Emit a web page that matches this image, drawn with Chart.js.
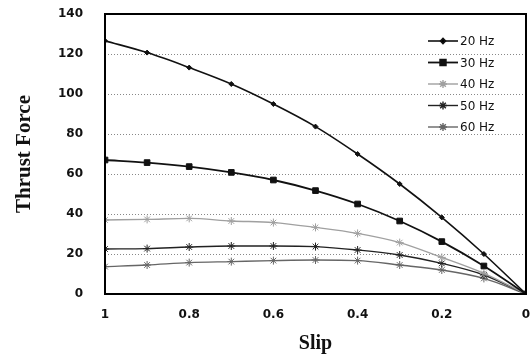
<!DOCTYPE html>
<html>
<head>
<meta charset="utf-8">
<script src="https://cdn.jsdelivr.net/npm/chart.js@4"></script>
<style>
  html, body { margin: 0; padding: 0; background: #fff; overflow: hidden; }
  canvas { display: block; }
</style>
</head>
<body>
<canvas id="thrustChart" width="531" height="356"></canvas>
<script>
const slip = [1, 0.9, 0.8, 0.7, 0.6, 0.5, 0.4, 0.3, 0.2, 0.1, 0];
const hz20 = [126.6, 120.7, 113.2, 105, 95, 83.7, 70, 55, 38.3, 20, 0];
const hz30 = [67, 65.7, 63.7, 60.8, 57, 51.7, 45, 36.5, 26.2, 14, 0];
const hz40 = [37, 37.3, 37.8, 36.5, 35.7, 33.3, 30.3, 25.7, 18.3, 10.3, 0];
const hz50 = [22.5, 22.7, 23.5, 24, 24, 23.7, 22, 19.5, 15.3, 9.5, 0];
const hz60 = [13.7, 14.5, 15.7, 16.2, 16.7, 17, 16.7, 14.5, 12, 7.8, 0];
const seriesLabels = ["20 Hz", "30 Hz", "40 Hz", "50 Hz", "60 Hz"];
const yTicks = [0, 20, 40, 60, 80, 100, 120, 140];
const xTicks = [1, 0.8, 0.6, 0.4, 0.2, 0];

const ctx = document.getElementById("thrustChart");

const toPoints = (vals) => vals.map((v, i) => ({ x: slip[i], y: v }));

const styles = [
  { color: "#111", point: "rectRot", radius: 2.5, width: 1.6 },
  { color: "#111", point: "rect", radius: 4, width: 1.8 },
  { color: "#a0a0a0", point: "star", radius: 4, width: 1.4 },
  { color: "#222", point: "star", radius: 4, width: 1.4 },
  { color: "#666", point: "star", radius: 4, width: 1.4 },
];

const series = [hz20, hz30, hz40, hz50, hz60];

// black frame around the plot + legend inside the plot
const framePlugin = {
  id: "frame",
  afterDraw(chart) {
    const { ctx, chartArea: a } = chart;
    ctx.save();
    ctx.strokeStyle = "#000";
    ctx.lineWidth = 2;
    ctx.strokeRect(a.left, a.top, a.right - a.left, a.bottom - a.top);

    ctx.font = "12px 'DejaVu Sans'";
    ctx.textBaseline = "middle";
    chart.data.datasets.forEach((ds, i) => {
      const y = 41 + i * 21.5;
      const x0 = 428, x1 = 458;
      ctx.strokeStyle = ds.borderColor;
      ctx.lineWidth = ds.borderWidth;
      ctx.beginPath();
      ctx.moveTo(x0, y);
      ctx.lineTo(x1, y);
      ctx.stroke();
      Chart.helpers.drawPoint(ctx, {
        pointStyle: ds.pointStyle,
        radius: ds.pointRadius,
        borderWidth: 1,
      }, (x0 + x1) / 2, y);
      ctx.fillStyle = "#111";
      ctx.fillText(ds.label, x1 + 2, y + 1);
    });
    ctx.restore();
  },
};

new Chart(ctx, {
  type: "line",
  data: {
    datasets: series.map((vals, i) => ({
      label: seriesLabels[i],
      data: toPoints(vals),
      borderColor: styles[i].color,
      backgroundColor: styles[i].color,
      borderWidth: styles[i].width,
      pointStyle: styles[i].point,
      pointRadius: styles[i].radius,
      pointBorderWidth: 1,
      cubicInterpolationMode: "monotone",
      tension: 0.4,
    })),
  },
  options: {
    responsive: false,
    animation: false,
    devicePixelRatio: 1,
    layout: { padding: { top: 14, right: 4, left: 0, bottom: 0 } },
    scales: {
      x: {
        type: "linear",
        reverse: true,
        min: 0,
        max: 1,
        afterBuildTicks: (s) => { s.ticks = xTicks.map((v) => ({ value: v })); },
        afterFit: (s) => { s.height = 62; s.paddingLeft = 0; s.paddingRight = 0; },
        grid: { display: false },
        border: { display: false },
        ticks: {
          color: "#111",
          font: { family: "DejaVu Sans", size: 12, weight: "bold" },
          padding: 6,
          maxRotation: 0,
          callback: (v) => String(v),
        },
        title: {
          display: true,
          text: "Slip",
          color: "#111",
          font: { family: "Liberation Serif", size: 20, weight: "bold" },
          padding: { top: 4, bottom: 0 },
        },
      },
      y: {
        min: 0,
        max: 140,
        afterBuildTicks: (s) => { s.ticks = yTicks.map((v) => ({ value: v })); },
        afterFit: (s) => { s.width = 105; s.paddingTop = 0; s.paddingBottom = 0; },
        grid: {
          color: "#888",
          lineWidth: 1,
          drawTicks: false,
        },
        border: { display: false, dash: [1, 2] },
        ticks: {
          color: "#111",
          font: { family: "DejaVu Sans", size: 12, weight: "bold" },
          padding: 22,
        },
        title: {
          display: true,
          text: "Thrust Force",
          color: "#111",
          font: { family: "Liberation Serif", size: 21, weight: "bold" },
          padding: { top: 12, bottom: 0 },
        },
      },
    },
    plugins: {
      legend: { display: false },
      tooltip: { enabled: false },
    },
  },
  plugins: [framePlugin],
});
</script>
</body>
</html>
